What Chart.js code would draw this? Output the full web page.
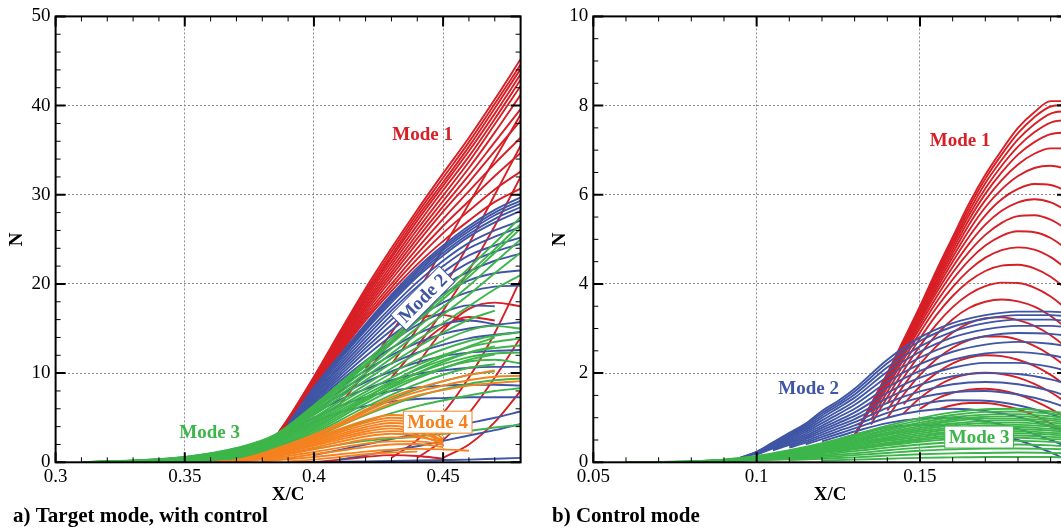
<!DOCTYPE html>
<html>
<head>
<meta charset="utf-8">
<script src="https://cdn.jsdelivr.net/npm/chart.js@4.4.1/dist/chart.umd.min.js"></script>
<style>
html, body { margin: 0; padding: 0; background: #fff; overflow: hidden; }
body { width: 1061px; height: 529px; position: relative; }
.panel { position: absolute; top: 0; }
#wrap-a { left: 0; }
#wrap-b { left: 530px; }
</style>
</head>
<body>
<div class="panel" id="wrap-a"><canvas id="chart-a" width="530" height="529"></canvas></div>
<div class="panel" id="wrap-b"><canvas id="chart-b" width="545" height="529"></canvas></div>
<script>
// ---- panel a) target mode, with control ----
const aRedX = [0.386, 0.39, 0.40, 0.41, 0.42, 0.43, 0.44, 0.45, 0.46, 0.47, 0.48];
const aRed = [
    [3.2, 4.9, 9.6, 14.6, 19.5, 24.0, 28.3, 32.4, 36.4, 40.7, 45.2],
    [3.2, 4.85, 9.5, 14.4, 19.2, 23.6, 27.9, 31.9, 35.9, 40.2, 44.6],
    [3.2, 4.8, 9.4, 14.2, 18.9, 23.2, 27.5, 31.4, 35.4, 39.7, 44.1],
    [3.2, 4.75, 9.3, 14.0, 18.6, 22.9, 27.1, 31.0, 34.9, 39.1, 43.5],
    [3.2, 4.7, 9.2, 13.8, 18.3, 22.5, 26.6, 30.5, 34.3, 38.5, 42.9],
    [3.2, 4.65, 9.1, 13.6, 18.0, 22.1, 26.1, 29.9, 33.7, 37.9, 42.2],
    [3.2, 4.6, 9.0, 13.4, 17.7, 21.7, 25.6, 29.3, 33.0, 37.0, 41.2],
    [3.2, 4.55, 8.9, 13.2, 17.4, 21.3, 25.1, 28.7, 32.2, 35.9, 39.6],
    [3.2, 4.5, 8.8, 13.0, 17.1, 20.9, 24.6, 28.1, 31.4, 34.9, 38.3],
    [3.2, 4.45, 8.7, 12.8, 16.8, 20.5, 24.0, 27.3, 30.4, 33.5, 36.4],
    [3.2, 4.4, 8.6, 12.6, 16.5, 20.0, 23.4, 26.5, 29.3, 32.1, 34.7],
    [3.2, 4.35, 8.5, 12.4, 16.2, 19.6, 22.8, 25.7, 28.2, 30.6, 32.6],
    [3.2, 4.3, 8.4, 12.2, 15.9, 19.2, 22.2, 24.8, 27.1, 29.2, 30.7],
    [null, null, null, null, 10.5, 14.5, 19.0, 24.0, 29.0, 34.0, 39.0],
    [null, null, null, null, null, 11.0, 15.0, 19.5, 24.5, 30.0, 35.5],
    [null, null, null, null, null, null, 13.0, 17.0, 21.5, 26.5, 32.0],
    [null, null, null, 6.5, 10.0, 13.5, 16.0, 16.5, 15.8, null, null],
    [null, null, null, null, null, 9.5, 12.8, 15.2, 16.3, 15.9, null],
    [null, null, null, null, null, null, 11.0, 14.8, 17.2, 17.9, 17.5],
    [null, null, null, null, null, null, 0.5, 2.5, 5.5, 9.5, 14.0],
    [null, null, null, null, null, 0.5, 2.5, 5.5, 9.5, 14.5, 20.5],
    [null, null, null, null, null, null, null, 0.5, 2.0, 4.5, 8.0],
    [null, null, 0.0, 0.3, 0.6, 0.8, 0.7, 0.4, null, null, null]
];

const aBlueX = [0.39, 0.40, 0.41, 0.42, 0.43, 0.44, 0.45, 0.46, 0.47, 0.48];
const aBlue = [
    [4.3, 8.4, 12.0, 15.5, 18.8, 21.8, 24.3, 26.5, 28.3, 29.7],
    [4.25, 8.3, 11.9, 15.35, 18.6, 21.55, 24.05, 26.2, 28.0, 29.35],
    [4.2, 8.2, 11.8, 15.2, 18.4, 21.3, 23.8, 25.9, 27.7, 29.0],
    [4.2, 8.1, 11.65, 15.0, 18.15, 21.05, 23.5, 25.6, 27.3, 28.6],
    [4.2, 8.0, 11.5, 14.8, 17.9, 20.8, 23.2, 25.3, 26.9, 28.2],
    [4.1, 7.8, 11.2, 14.4, 17.4, 20.2, 22.6, 24.6, 26.0, 27.1],
    [4.1, 7.6, 10.9, 14.0, 17.0, 19.7, 22.0, 24.0, 25.3, 26.4],
    [4.0, 7.5, 10.6, 13.6, 16.5, 19.1, 21.3, 23.2, 24.3, 25.2],
    [4.0, 7.3, 10.3, 13.2, 16.0, 18.5, 20.6, 22.4, 23.6, 24.5],
    [3.9, 7.1, 10.0, 12.8, 15.4, 17.8, 19.8, 21.4, 22.6, 23.4],
    [3.9, 7.0, 9.7, 12.4, 14.8, 17.0, 18.9, 20.4, 21.2, 21.5],
    [3.8, 6.8, 9.4, 11.9, 14.2, 16.2, 17.9, 19.1, 19.7, 19.8],
    [3.8, 6.6, 9.1, 11.4, 13.5, 15.4, 16.8, 17.6, 17.5, null],
    [3.7, 6.4, 8.8, 10.9, 12.8, 14.4, 15.5, 15.9, 15.5, null],
    [3.7, 6.2, 8.4, 10.3, 12.0, 13.4, 14.4, 15.0, 15.4, 15.7],
    [3.6, 6.0, 8.0, 9.7, 11.1, 12.3, 13.2, 13.9, 14.3, 14.6],
    [3.5, 5.7, 7.5, 9.0, 10.2, 11.2, 11.9, 12.3, 12.5, 12.6],
    [3.4, 5.4, 7.0, 8.2, 9.2, 9.9, 10.3, 10.6, 10.7, 10.7],
    [3.2, 5.0, 6.3, 7.3, 8.0, 8.4, 8.6, 8.7, 8.7, 8.6],
    [3.0, 4.5, 5.6, 6.3, 6.8, 7.1, 7.2, 7.3, 7.3, 7.3],
    [null, 0.8, 1.4, 2.0, 2.6, 3.2, 3.8, 4.4, 5.0, 5.7],
    [null, null, 0.3, 0.8, 1.3, 1.8, 2.4, 3.0, 3.6, 4.3],
    [0.0, 0.03, 0.06, 0.1, 0.14, 0.2, 0.25, 0.3, 0.4, 0.5]
];

const aGreenX = [0.31, 0.33, 0.35, 0.37, 0.385, 0.40, 0.42, 0.44, 0.46, 0.47, 0.48];
const aGreen = [
    [0.02, 0.2, 0.6, 1.6, 3.1, 6.4, 11.3, 16.5, 21.8, 24.6, 27.5],
    [0.02, 0.19, 0.58, 1.55, 3.05, 6.25, 11.0, 16.1, 21.2, 23.9, 26.7],
    [0.02, 0.19, 0.57, 1.52, 3.0, 6.1, 10.8, 15.8, 20.8, 23.5, 26.2],
    [0.02, 0.18, 0.54, 1.45, 2.9, 5.9, 10.4, 15.1, 19.8, 22.4, 25.0],
    [0.01, 0.17, 0.5, 1.38, 2.8, 5.7, 10.0, 14.4, 18.8, 21.2, 23.5],
    [0.01, 0.16, 0.47, 1.3, 2.7, 5.5, 9.6, 13.7, 17.5, 19.4, 21.0],
    [0.01, 0.15, 0.44, 1.22, 2.6, 5.3, 9.2, 12.9, 16.0, 17.0, null],
    [0.01, 0.14, 0.41, 1.15, 2.45, 5.0, 8.7, 12.2, 14.8, 15.3, 15.0],
    [0.01, 0.13, 0.38, 1.08, 2.3, 4.8, 8.3, 11.5, 13.6, 14.2, 14.6],
    [0.01, 0.12, 0.35, 1.0, 2.2, 4.6, 7.9, 10.9, 12.9, 13.5, 13.9],
    [0.0, 0.11, 0.32, 0.92, 2.05, 4.4, 7.6, 10.4, 12.3, 12.8, 13.1],
    [0.0, 0.1, 0.29, 0.85, 1.9, 4.2, 7.3, 10.0, 11.8, 12.2, 12.3],
    [0.0, 0.09, 0.26, 0.77, 1.75, 4.0, 7.0, 9.6, 11.3, 11.5, 11.1],
    [0.0, 0.08, 0.23, 0.7, 1.6, 3.8, 7.2, 10.5, 13.0, 14.0, null],
    [0.0, 0.07, 0.2, 0.62, 1.5, 3.6, 6.9, 10.0, 12.3, 13.0, null],
    [0.0, 0.06, 0.18, 0.55, 1.4, 3.4, 6.6, 9.4, 11.5, 12.1, null],
    [0.0, 0.05, 0.15, 0.48, 1.3, 3.2, 6.2, 8.8, 10.6, 11.0, null],
    [0.0, 0.04, 0.12, 0.4, 1.2, 3.0, 5.8, 8.2, 9.8, 10.2, null],
    [0.0, 0.03, 0.1, 0.35, 1.1, 2.8, 5.3, 7.4, 8.8, 9.2, 9.4],
    [null, null, 0.05, 0.3, 1.0, 2.5, 4.6, 6.3, 7.5, 8.0, 8.3],
    [null, null, null, 0.2, 0.7, 1.5, 2.4, 2.9, 3.5, 3.9, 4.2]
];

const aOrangeX = [0.36, 0.37, 0.38, 0.39, 0.40, 0.41, 0.42, 0.43, 0.44, 0.45, 0.46, 0.47, 0.48];
const aOrange = [
    [0.0, 0.25, 1.0, 2.0, 3.1, 4.4, 5.9, 7.3, 8.3, 9.1, 9.8, 10.3, null],
    [0.0, 0.25, 0.98, 1.95, 3.0, 4.25, 5.65, 6.95, 7.9, 8.6, 9.2, 9.6, 9.7],
    [0.0, 0.24, 0.95, 1.9, 2.9, 4.1, 5.4, 6.6, 7.5, 8.1, 8.6, 8.9, 9.1],
    [0.0, 0.22, 0.9, 1.8, 2.75, 3.75, 4.7, 5.3, 5.0, 3.0, null, null, null],
    [0.0, 0.2, 0.85, 1.7, 2.6, 3.55, 4.45, 5.0, 4.7, 2.6, null, null, null],
    [0.0, 0.18, 0.8, 1.6, 2.45, 3.35, 4.2, 4.7, 4.3, 2.2, null, null, null],
    [0.0, 0.16, 0.75, 1.5, 2.3, 3.15, 3.95, 4.4, 4.0, 1.9, null, null, null],
    [0.0, 0.14, 0.7, 1.4, 2.15, 2.95, 3.7, 4.1, 3.7, null, null, null, null],
    [0.0, 0.12, 0.65, 1.3, 2.0, 2.75, 3.45, 3.8, 3.5, null, null, null, null],
    [0.0, 0.1, 0.58, 1.2, 1.85, 2.55, 3.2, 3.5, 3.3, 2.5, null, null, null],
    [0.0, 0.08, 0.5, 1.05, 1.65, 2.3, 2.9, 3.2, 3.0, 2.1, null, null, null],
    [null, 0.05, 0.4, 0.9, 1.45, 2.0, 2.55, 2.8, 2.8, 2.3, null, null, null],
    [null, 0.03, 0.3, 0.7, 1.15, 1.65, 2.1, 2.35, 2.35, 2.0, null, null, null],
    [null, null, 0.2, 0.5, 0.9, 1.3, 1.7, 2.0, 2.05, 1.7, null, null, null],
    [null, null, 0.1, 0.35, 0.6, 0.9, 1.2, 1.4, 1.5, 1.45, 1.3, null, null],
    [null, null, null, 0.1, 0.3, 0.6, 0.9, 1.1, 1.2, null, null, null, null]
];

// ---- panel b) control mode ----
const bRedX = [0.13, 0.135, 0.14, 0.145, 0.15, 0.155, 0.16, 0.165, 0.17, 0.175, 0.18, 0.185, 0.19, 0.195];
const bRed = [
    [0.6, 1.3, 2.0, 2.75, 3.5, 4.3, 5.05, 5.8, 6.45, 7.0, 7.5, 7.85, 8.1, 8.1],
    [0.6, 1.29, 1.98, 2.72, 3.47, 4.25, 4.99, 5.72, 6.36, 6.9, 7.38, 7.74, 7.98, 8.02],
    [0.6, 1.28, 1.96, 2.69, 3.43, 4.2, 4.92, 5.63, 6.26, 6.78, 7.24, 7.58, 7.82, 7.88],
    [0.6, 1.27, 1.94, 2.66, 3.4, 4.14, 4.85, 5.54, 6.14, 6.65, 7.08, 7.4, 7.62, 7.68],
    [0.6, 1.26, 1.92, 2.63, 3.36, 4.08, 4.77, 5.44, 6.02, 6.5, 6.9, 7.18, 7.36, 7.4],
    [0.6, 1.25, 1.9, 2.6, 3.32, 4.02, 4.69, 5.33, 5.88, 6.33, 6.68, 6.92, 7.04, 7.04],
    [0.61, 1.24, 1.88, 2.57, 3.27, 3.95, 4.6, 5.2, 5.72, 6.12, 6.42, 6.6, 6.65, 6.58],
    [0.61, 1.23, 1.86, 2.54, 3.22, 3.88, 4.5, 5.06, 5.54, 5.9, 6.13, 6.24, 6.22, 6.08],
    [0.62, 1.22, 1.84, 2.5, 3.16, 3.8, 4.38, 4.9, 5.33, 5.64, 5.83, 5.9, 5.83, 5.64],
    [null, 1.18, 1.8, 2.45, 3.09, 3.7, 4.25, 4.72, 5.1, 5.37, 5.52, 5.54, 5.44, 5.22],
    [null, 1.12, 1.75, 2.39, 3.01, 3.59, 4.1, 4.53, 4.86, 5.08, 5.18, 5.16, 5.03, 4.78],
    [null, 1.05, 1.68, 2.31, 2.91, 3.46, 3.93, 4.31, 4.59, 4.76, 4.82, 4.77, 4.6, 4.33],
    [null, 0.95, 1.58, 2.2, 2.78, 3.3, 3.73, 4.06, 4.29, 4.41, 4.43, 4.35, 4.16, 3.87],
    [null, 0.85, 1.46, 2.06, 2.61, 3.09, 3.48, 3.77, 3.95, 4.03, 4.02, 3.92, 3.72, 3.43],
    [null, null, 1.32, 1.9, 2.42, 2.86, 3.21, 3.46, 3.6, 3.65, 3.61, 3.49, 3.28, 3.0],
    [null, null, 1.16, 1.72, 2.2, 2.6, 2.91, 3.12, 3.23, 3.25, 3.19, 3.06, 2.85, 2.57],
    [null, null, 1.0, 1.52, 1.96, 2.31, 2.57, 2.74, 2.82, 2.82, 2.75, 2.61, 2.4, 2.13],
    [null, null, null, 1.3, 1.7, 2.0, 2.22, 2.35, 2.4, 2.38, 2.3, 2.16, 1.96, 1.7],
    [null, null, null, 1.1, 1.44, 1.7, 1.88, 1.98, 2.01, 1.98, 1.9, 1.76, 1.57, 1.33],
    [null, null, null, null, 1.2, 1.42, 1.56, 1.63, 1.65, 1.61, 1.52, 1.38, 1.2, 0.98],
    [null, null, null, null, null, 1.18, 1.28, 1.33, 1.33, 1.28, 1.19, 1.05, 0.87, 0.66]
];

const bBlueX = [0.095, 0.10, 0.105, 0.11, 0.115, 0.12, 0.125, 0.13, 0.14, 0.15, 0.16, 0.17, 0.18, 0.19, 0.195];
const bBlue = [
    [0.1, 0.24, 0.45, 0.66, 0.87, 1.15, 1.38, 1.65, 2.3, 2.8, 3.12, 3.3, 3.38, 3.38, 3.36],
    [0.1, 0.23, 0.43, 0.63, 0.84, 1.1, 1.33, 1.59, 2.22, 2.72, 3.04, 3.22, 3.3, 3.3, 3.28],
    [0.1, 0.22, 0.41, 0.6, 0.8, 1.05, 1.28, 1.52, 2.13, 2.6, 2.93, 3.12, 3.2, 3.2, 3.17],
    [0.1, 0.21, 0.39, 0.57, 0.76, 1.0, 1.22, 1.45, 2.03, 2.48, 2.8, 2.98, 3.06, 3.06, 3.03],
    [0.1, 0.2, 0.37, 0.54, 0.72, 0.94, 1.15, 1.37, 1.92, 2.35, 2.65, 2.83, 2.9, 2.88, 2.84],
    [null, 0.19, 0.35, 0.51, 0.68, 0.88, 1.08, 1.29, 1.8, 2.2, 2.48, 2.64, 2.7, 2.66, 2.6],
    [null, 0.18, 0.33, 0.48, 0.64, 0.82, 1.01, 1.2, 1.68, 2.05, 2.3, 2.44, 2.47, 2.4, 2.33],
    [null, 0.17, 0.31, 0.45, 0.6, 0.77, 0.94, 1.12, 1.56, 1.9, 2.12, 2.23, 2.23, 2.14, 2.05],
    [null, null, 0.29, 0.42, 0.56, 0.72, 0.88, 1.04, 1.44, 1.74, 1.93, 2.0, 1.98, 1.86, 1.76],
    [null, null, 0.27, 0.39, 0.52, 0.67, 0.82, 0.97, 1.33, 1.59, 1.75, 1.8, 1.75, 1.6, 1.48],
    [null, null, null, 0.36, 0.48, 0.62, 0.76, 0.9, 1.22, 1.45, 1.57, 1.6, 1.52, 1.35, 1.22],
    [null, null, null, 0.33, 0.44, 0.57, 0.7, 0.83, 1.11, 1.3, 1.39, 1.38, 1.28, 1.08, 0.95],
    [null, null, null, null, 0.4, 0.52, 0.64, 0.76, 1.0, 1.15, 1.2, 1.15, 1.02, 0.8, 0.66],
    [null, null, null, null, null, 0.47, 0.58, 0.69, 0.88, 0.98, 1.0, 0.92, 0.75, 0.5, 0.35],
    [null, null, null, null, null, null, 0.52, 0.62, 0.78, 0.84, 0.82, 0.7, 0.5, 0.22, 0.05]
];

const bGreenX = [0.06, 0.08, 0.09, 0.10, 0.11, 0.12, 0.13, 0.14, 0.15, 0.16, 0.17, 0.18, 0.19, 0.195];
const bGreen = [
    [0.0, 0.02, 0.06, 0.14, 0.27, 0.43, 0.62, 0.82, 0.99, 1.12, 1.19, 1.2, 1.14, 1.1],
    [0.0, 0.02, 0.06, 0.13, 0.26, 0.41, 0.59, 0.78, 0.94, 1.06, 1.13, 1.14, 1.09, 1.05],
    [0.0, 0.02, 0.05, 0.13, 0.24, 0.39, 0.56, 0.74, 0.89, 1.01, 1.07, 1.08, 1.03, 0.99],
    [0.0, 0.02, 0.05, 0.12, 0.23, 0.37, 0.53, 0.71, 0.85, 0.96, 1.02, 1.03, 0.98, 0.95],
    [0.0, 0.02, 0.05, 0.11, 0.22, 0.35, 0.51, 0.67, 0.81, 0.92, 0.98, 0.98, 0.94, 0.9],
    [0.0, 0.01, 0.05, 0.11, 0.21, 0.34, 0.48, 0.64, 0.77, 0.87, 0.93, 0.94, 0.89, 0.86],
    [0.0, 0.01, 0.04, 0.1, 0.2, 0.32, 0.46, 0.61, 0.73, 0.83, 0.88, 0.89, 0.84, 0.81],
    [0.0, 0.01, 0.04, 0.1, 0.19, 0.3, 0.43, 0.57, 0.69, 0.78, 0.83, 0.84, 0.8, 0.77],
    [0.0, 0.01, 0.04, 0.09, 0.18, 0.28, 0.41, 0.54, 0.65, 0.74, 0.79, 0.79, 0.75, 0.73],
    [0.0, 0.01, 0.04, 0.09, 0.17, 0.27, 0.38, 0.51, 0.61, 0.69, 0.74, 0.74, 0.71, 0.68],
    [0.0, 0.01, 0.03, 0.08, 0.16, 0.25, 0.36, 0.48, 0.57, 0.65, 0.69, 0.7, 0.66, 0.64],
    [0.0, 0.01, 0.03, 0.08, 0.15, 0.23, 0.33, 0.44, 0.53, 0.6, 0.64, 0.65, 0.62, 0.59],
    [0.0, 0.01, 0.03, 0.07, 0.14, 0.22, 0.31, 0.41, 0.5, 0.56, 0.6, 0.6, 0.57, 0.55],
    [0.0, 0.01, 0.03, 0.06, 0.12, 0.2, 0.29, 0.38, 0.46, 0.52, 0.55, 0.55, 0.52, 0.51],
    [null, 0.01, 0.02, 0.06, 0.11, 0.17, 0.25, 0.33, 0.4, 0.45, 0.48, 0.48, 0.46, 0.44],
    [null, null, 0.02, 0.05, 0.09, 0.14, 0.2, 0.27, 0.33, 0.37, 0.39, 0.4, 0.38, 0.36],
    [null, null, null, 0.04, 0.07, 0.11, 0.16, 0.21, 0.26, 0.29, 0.31, 0.31, 0.3, 0.29],
    [null, null, null, null, 0.05, 0.08, 0.11, 0.15, 0.18, 0.2, 0.21, 0.22, 0.21, 0.2],
    [null, null, null, null, null, 0.04, 0.06, 0.08, 0.1, 0.11, 0.12, 0.12, 0.12, 0.11]
];

const RED = '#d71f26';
const BLUE = '#3f55a5';
const GREEN = '#3db54a';
const ORANGE = '#f5821f';
const SERIF = '"Liberation Serif", "Times New Roman", serif';

const aNotes = [
    { text: 'Mode 1', x: 0.4421, y: 36.8, color: RED },
    { text: 'Mode 2', x: 0.4421, y: 18.4, color: BLUE, angle: -45, box: true },
    { text: 'Mode 3', x: 0.3596, y: 3.39, color: GREEN },
    { text: 'Mode 4', x: 0.4479, y: 4.5, color: ORANGE, box: true }
];
const bNotes = [
    { text: 'Mode 1', x: 0.1623, y: 7.23, color: RED },
    { text: 'Mode 2', x: 0.1159, y: 1.67, color: BLUE },
    { text: 'Mode 3', x: 0.1681, y: 0.566, color: GREEN, box: true }
];

function lines(xs, rows, color) {
    return rows.map(row => ({
        data: row.map((v, i) => (v === null ? null : { x: xs[i], y: v })).filter(Boolean),
        borderColor: color,
        borderWidth: 1.9,
        pointRadius: 0,
        fill: false,
        cubicInterpolationMode: 'monotone'
    }));
}

const isMultiple = (v, step) => Math.abs(v / step - Math.round(v / step)) < 1e-6;

// frame, inward ticks on all four sides, mode labels and panel caption
const decor = {
    id: 'decor',
    afterDatasetsDraw(chart, args, o) {
        const { ctx, chartArea: a, scales: { x, y } } = chart;
        ctx.save();
        ctx.strokeStyle = '#000';

        const nx = Math.round((o.xMax - o.xMin) / o.xMinor);
        for (let i = 0; i <= nx; i++) {
            const v = o.xMin + i * o.xMinor;
            const px = x.getPixelForValue(v);
            const major = isMultiple(v, o.xMajor);
            const len = major ? 10 : 5;
            ctx.lineWidth = major ? 2 : 1;
            ctx.beginPath();
            ctx.moveTo(px, a.bottom); ctx.lineTo(px, a.bottom - len);
            ctx.moveTo(px, a.top); ctx.lineTo(px, a.top + len);
            ctx.stroke();
        }
        const ny = Math.round((o.yMax - o.yMin) / o.yMinor);
        for (let i = 0; i <= ny; i++) {
            const v = o.yMin + i * o.yMinor;
            const py = y.getPixelForValue(v);
            const major = isMultiple(v, o.yMajor);
            const len = major ? 10 : 5;
            ctx.lineWidth = major ? 2 : 1;
            ctx.beginPath();
            ctx.moveTo(a.left, py); ctx.lineTo(a.left + len, py);
            ctx.moveTo(a.right, py); ctx.lineTo(a.right - len, py);
            ctx.stroke();
        }
        ctx.lineWidth = 2;
        ctx.strokeRect(a.left, a.top, a.right - a.left, a.bottom - a.top);

        ctx.font = 'bold 19px ' + SERIF;
        ctx.textAlign = 'center';
        ctx.textBaseline = 'middle';
        o.notes.forEach(n => {
            ctx.save();
            ctx.translate(x.getPixelForValue(n.x), y.getPixelForValue(n.y));
            ctx.rotate((n.angle || 0) * Math.PI / 180);
            if (n.box) {
                const w = ctx.measureText(n.text).width + 8;
                ctx.fillStyle = '#fff';
                ctx.fillRect(-w / 2, -11, w, 22);
                ctx.strokeStyle = n.color;
                ctx.lineWidth = 1;
                ctx.strokeRect(-w / 2, -11, w, 22);
            }
            ctx.fillStyle = n.color;
            ctx.fillText(n.text, 0, 1);
            ctx.restore();
        });

        ctx.font = 'bold 21px ' + SERIF;
        ctx.textAlign = 'left';
        ctx.fillStyle = '#000';
        ctx.fillText(o.caption, o.captionX, 517);
        ctx.restore();
    }
};

function makeChart(id, datasets, p) {
    return new Chart(document.getElementById(id), {
        type: 'line',
        data: { datasets },
        plugins: [decor],
        options: {
            responsive: false,
            animation: false,
            events: [],
            layout: { padding: { top: 15.2, right: p.padRight, left: 0, bottom: 0 } },
            plugins: {
                legend: { display: false },
                tooltip: { enabled: false },
                decor: p.decor
            },
            scales: {
                x: {
                    type: 'linear',
                    min: p.decor.xMin,
                    max: p.decor.xMax,
                    afterFit: s => { s.height = 66.7; },
                    grid: { color: '#8c8c8c', lineWidth: 1, drawTicks: false },
                    border: { display: false, dash: [2, 2] },
                    ticks: {
                        stepSize: p.decor.xMajor,
                        includeBounds: false,
                        padding: 3,
                        color: '#000',
                        font: { family: SERIF, size: 19 },
                        callback: v => String(+v.toFixed(3))
                    },
                    title: {
                        display: true, text: 'X/C', color: '#000',
                        font: { family: SERIF, size: 19, weight: 'bold' },
                        padding: { top: 0, bottom: 22.6 }
                    }
                },
                y: {
                    min: p.decor.yMin,
                    max: p.decor.yMax,
                    afterFit: s => { s.width = p.yWidth; },
                    grid: { color: '#8c8c8c', lineWidth: 1, drawTicks: false },
                    border: { display: false, dash: [2, 2] },
                    ticks: {
                        stepSize: p.decor.yMajor,
                        padding: 5,
                        color: '#000',
                        font: { family: SERIF, size: 19 }
                    },
                    title: {
                        display: true, text: 'N', color: '#000',
                        font: { family: SERIF, size: 19, weight: 'bold' },
                        padding: { top: p.titlePad, bottom: 0 }
                    }
                }
            }
        }
    });
}

makeChart('chart-a', [
    ...lines(aOrangeX, aOrange, ORANGE),
    ...lines(aGreenX, aGreen, GREEN),
    ...lines(aBlueX, aBlue, BLUE),
    ...lines(aRedX, aRed, RED)
], {
    padRight: 9.4,
    yWidth: 55.6,
    titlePad: 5.6,
    decor: {
        xMin: 0.3, xMax: 0.48, xMajor: 0.05, xMinor: 0.01,
        yMin: 0, yMax: 50, yMajor: 10, yMinor: 2,
        notes: aNotes, caption: 'a) Target mode, with control', captionX: 13
    }
});

makeChart('chart-b', [
    ...lines(bGreenX, bGreen, GREEN),
    ...lines(bBlueX, bBlue, BLUE),
    ...lines(bRedX, bRed, RED)
], {
    padRight: 8,
    yWidth: 63.3,
    titlePad: 18.6,
    decor: {
        xMin: 0.05, xMax: 0.195, xMajor: 0.05, xMinor: 0.01,
        yMin: 0, yMax: 10, yMajor: 2, yMinor: 0.5,
        notes: bNotes, caption: 'b) Control mode', captionX: 22
    }
});
</script>
</body>
</html>
